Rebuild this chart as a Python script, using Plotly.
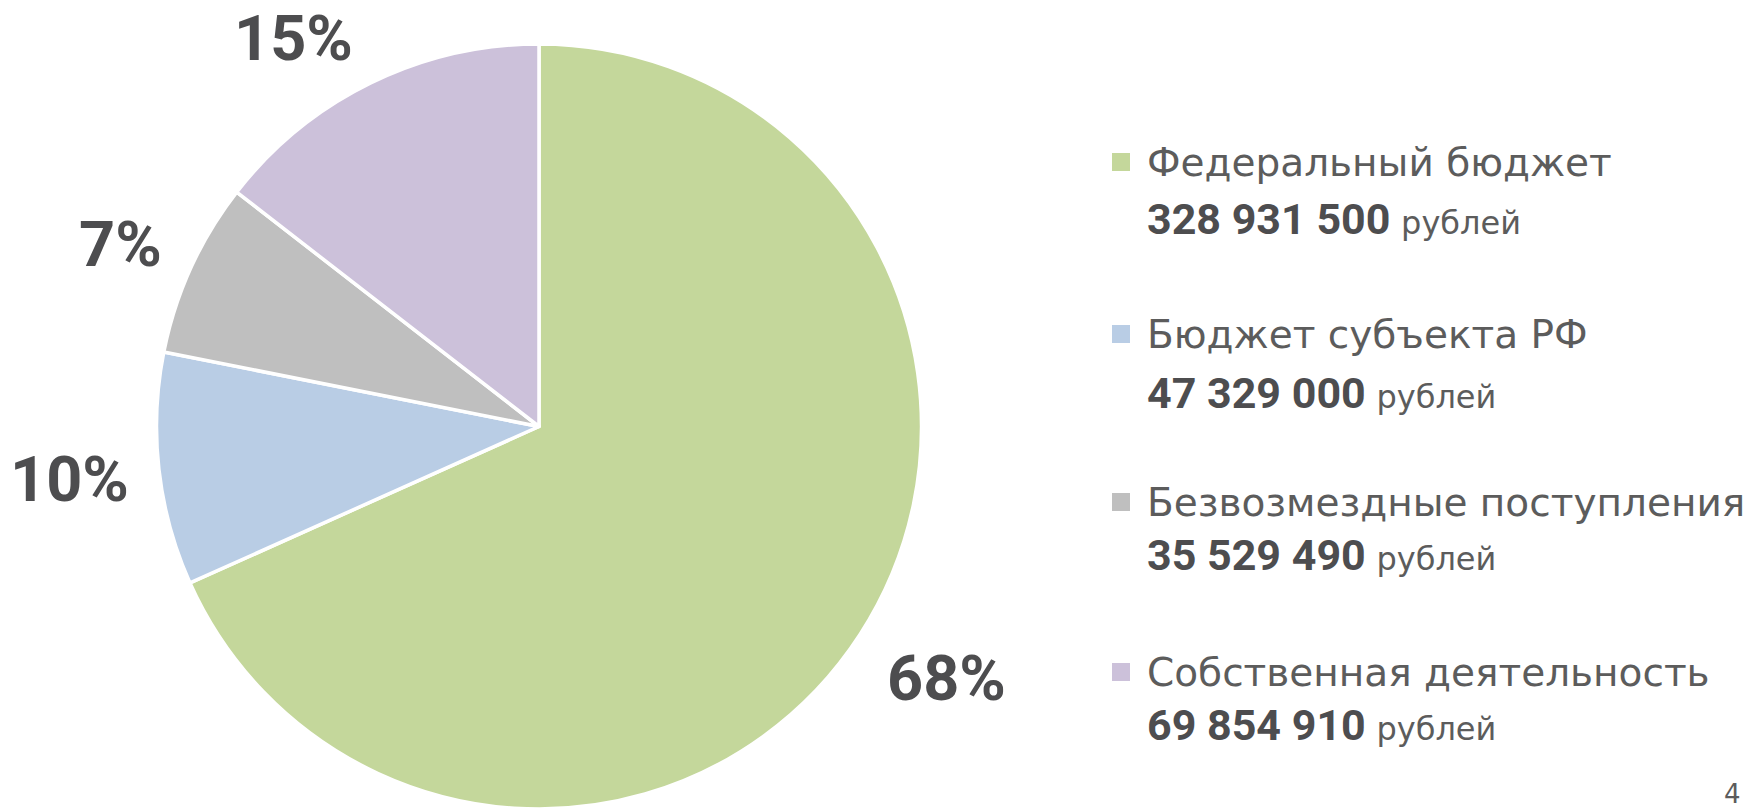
import plotly.graph_objects as go

W, H = 1754, 809

# ---- data ----
categories = ["Федеральный бюджет", "Бюджет субъекта РФ", "Безвозмездные поступления", "Собственная деятельность"]
amounts = [328931500, 47329000, 35529490, 69854910]
amount_labels = ["328 931 500", "47 329 000", "35 529 490", "69 854 910"]
unit_label = "рублей"
page_number = "4"

colors = ["#C4D79B", "#B9CDE5", "#BFBFBF", "#CCC1DA"]
TEXT_DARK = "#4D4D4F"
TEXT_GRAY = "#5C5C5C"

total = sum(amounts)
pct_text = [f"{round(v / total * 100)}%" for v in amounts]

def px_x(x):
    return x / W

def px_y(y):
    return 1 - y / H

fig = go.Figure()
fig.add_trace(go.Pie(
    labels=categories,
    values=amounts,
    sort=False,
    direction="clockwise",
    rotation=0,
    marker=dict(colors=colors, line=dict(color="white", width=3.5)),
    textinfo="none",
    hoverinfo="label+value+percent",
    showlegend=False,
    domain=dict(x=[px_x(155), px_x(923)], y=[0, px_y(44)]),
))

annotations = []
# percentage labels (pixel centres)
pct_pos = [(946, 681), (69, 482), (121, 247), (293, 40)]
for (x, y), t in zip(pct_pos, pct_text):
    top = max(0, y - 41)
    annotations.append(dict(
        x=px_x(x), y=px_y(top), xref="paper", yref="paper",
        text=f"<b>{t}</b>", showarrow=False, xanchor="center", yanchor="top",
        font=dict(family="Roboto", size=63, color=TEXT_DARK),
    ))

# legend-like block
name_y = [162, 334, 502, 672]
num_y = [219, 393, 555, 725]
text_x = 1145
sq_x0, sq_size = 1112, 18
shapes = []
for i in range(len(categories)):
    annotations.append(dict(
        x=px_x(text_x), y=px_y(name_y[i]), xref="paper", yref="paper",
        text=categories[i], showarrow=False, xanchor="left", yanchor="middle",
        font=dict(family="DejaVu Sans", size=39, color=TEXT_GRAY),
    ))
    annotations.append(dict(
        x=px_x(text_x), y=px_y(num_y[i]), xref="paper", yref="paper",
        text=(f"<b>{amount_labels[i]}</b> "
              f"<span style='font-family:DejaVu Sans;font-size:32px;color:{TEXT_GRAY}'>{unit_label}</span>"),
        showarrow=False, xanchor="left", yanchor="middle",
        font=dict(family="Roboto", size=43, color=TEXT_DARK),
    ))
    shapes.append(dict(
        type="rect", xref="paper", yref="paper",
        x0=px_x(sq_x0), x1=px_x(sq_x0 + sq_size),
        y0=px_y(name_y[i] + sq_size / 2), y1=px_y(name_y[i] - sq_size / 2),
        fillcolor=colors[i], line=dict(width=0),
    ))

annotations.append(dict(
    x=px_x(1732), y=px_y(794), xref="paper", yref="paper",
    text=page_number, showarrow=False, xanchor="center", yanchor="middle",
    font=dict(family="DejaVu Sans", size=26, color=TEXT_GRAY),
))

fig.update_layout(
    width=W, height=H,
    margin=dict(l=0, r=0, t=0, b=0),
    paper_bgcolor="white", plot_bgcolor="white",
    annotations=annotations, shapes=shapes,
    showlegend=False,
)

fig.write_html(
    "out.html",
    config={"displayModeBar": False},
    post_script="document.body.style.margin='0';document.body.style.overflow='hidden';",
)
